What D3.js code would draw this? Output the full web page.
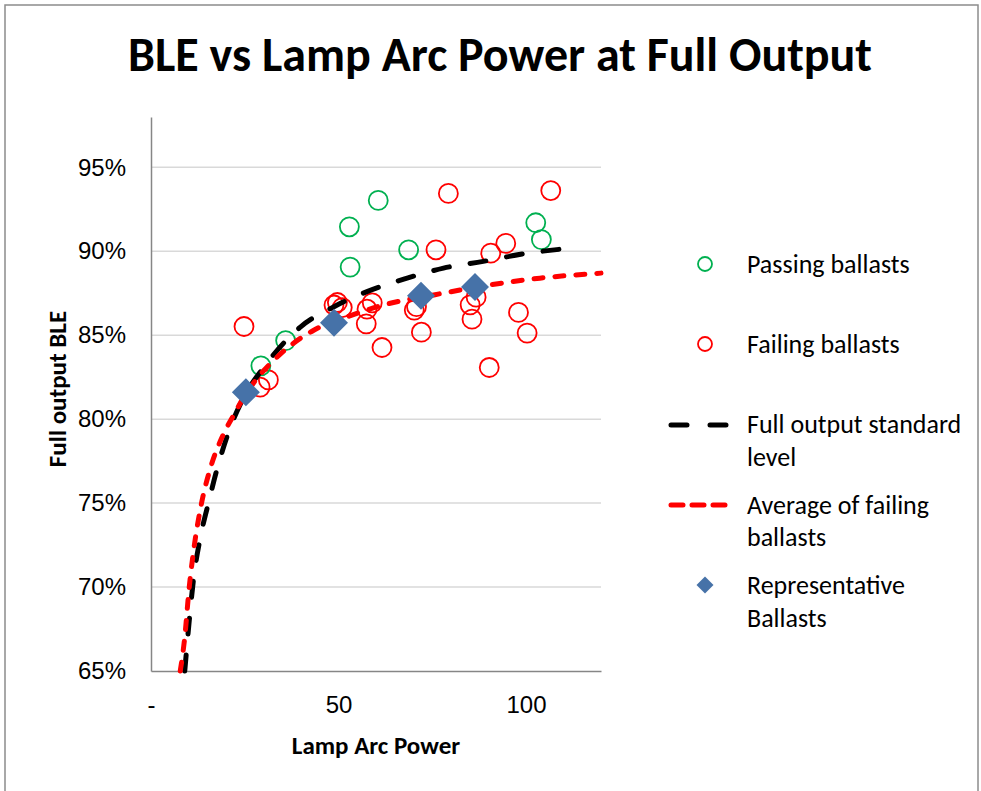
<!DOCTYPE html>
<meta charset="utf-8">
<style>
  body { margin: 0; background: #fff; }
  svg { font-family: Carlito, Calibri, Lato, sans-serif; }
  .grid line { stroke: #d9d9d9; stroke-width: 1.5px; }
  .axis .domain { stroke: #868686; stroke-width: 1.5px; }
  .axis .tick line { display: none; }
  .axis .tick text { font-size: 24px; fill: #000; }
  .legend text { font-size: 26px; fill: #000; }
</style>
<script src="https://d3js.org/d3.v7.min.js"></script>
<div id="chart"></div>
<script>
// ---- data (lamp arc power, BLE %) ----
const passing = [
  [29.3, 83.18], [35.9, 84.68], [52.9, 91.46], [53.1, 89.06],
  [60.6, 93.03], [68.7, 90.09], [102.6, 91.7], [104.1, 90.7]
];
const failing = [
  [24.8, 85.52], [29.1, 81.91], [31.3, 82.34], [48.8, 86.8], [49.7, 86.95],
  [51.0, 86.65], [57.4, 85.68], [57.6, 86.55], [59.0, 86.93], [61.6, 84.27],
  [70.2, 86.5], [70.8, 86.7], [72.1, 85.18], [76.0, 90.09], [79.3, 93.45],
  [85.1, 86.81], [85.6, 85.96], [86.7, 87.27], [90.2, 83.08], [90.6, 89.89],
  [94.6, 90.47], [98.0, 86.36], [100.3, 85.13], [106.6, 93.62]
];
const standardLevel = [
  [9.0, 65.0], [10.2, 68.0], [11.3, 70.4], [13.2, 73.0], [15.3, 75.0],
  [17.7, 77.1], [20.8, 79.3], [24.5, 81.2], [30.1, 83.1], [39.9, 85.5],
  [48.8, 86.7], [57.6, 87.6], [68.3, 88.4], [78.0, 89.0], [88.6, 89.4],
  [99.3, 89.85], [112.6, 90.2]
];
const failingAverage = [
  [7.8, 65.0], [8.9, 66.8], [10.2, 70.0], [11.5, 72.4], [13.3, 74.8],
  [16.0, 77.2], [19.1, 79.0], [22.2, 80.3], [25.0, 81.4], [27.5, 82.2],
  [34.6, 83.9], [43.4, 85.3], [52.3, 86.1], [62.0, 86.8], [75.4, 87.4],
  [90.4, 88.0], [103.7, 88.4], [120, 88.7]
];
const representative = [
  [25.3, 81.6], [48.8, 85.74], [72.0, 87.35], [86.4, 87.87]
];
const xTicks = [0, 50, 100];
const yTicks = [65, 70, 75, 80, 85, 90, 95];

const W = 981, H = 791;
const margin = {top: 117, left: 151};
const width = 450, height = 554;

const svg = d3.select("#chart").append("svg")
    .attr("width", W)
    .attr("height", H);

// outer chart frame
svg.append("rect")
    .attr("x", 5).attr("y", 5)
    .attr("width", 973).attr("height", 820)
    .attr("fill", "none")
    .attr("stroke", "#8c8c8c")
    .attr("stroke-width", 1.5);

svg.append("text")
    .attr("x", 500).attr("y", 71)
    .attr("text-anchor", "middle")
    .style("font-size", "48px")
    .style("font-weight", "bold")
    .text("BLE vs Lamp Arc Power at Full Output");

const g = svg.append("g")
    .attr("transform", `translate(${margin.left},${margin.top})`);

const x = d3.scaleLinear().domain([0, 120]).range([0, width]);
const y = d3.scaleLinear().domain([65, 98]).range([height, 0]);

// gridlines
g.append("g").attr("class", "grid")
  .selectAll("line")
  .data(yTicks.filter(d => d > 65))
  .join("line")
    .attr("x1", 0).attr("x2", width)
    .attr("y1", d => y(d)).attr("y2", d => y(d));

// axes
g.append("g").attr("class", "axis")
    .call(d3.axisLeft(y).tickValues(yTicks).tickSize(0).tickPadding(25)
      .tickFormat(d => d + "%"));

g.append("g").attr("class", "axis")
    .attr("transform", `translate(0,${height})`)
    .call(d3.axisBottom(x).tickValues(xTicks).tickSize(0).tickPadding(25)
      .tickFormat(d => d === 0 ? "-" : d));

// axis titles
svg.append("text")
    .attr("x", 376).attr("y", 754)
    .attr("text-anchor", "middle")
    .style("font-size", "25px").style("font-weight", "bold")
    .text("Lamp Arc Power");
svg.append("text")
    .attr("transform", "translate(66,389) rotate(-90)")
    .attr("text-anchor", "middle")
    .style("font-size", "25px").style("font-weight", "bold")
    .text("Full output BLE");

const line = d3.line()
    .curve(d3.curveMonotoneX)
    .x(d => x(d[0]))
    .y(d => y(d[1]));

// markers first, then the lines on top
g.append("g").selectAll("circle")
  .data(failing)
  .join("circle")
    .attr("cx", d => x(d[0])).attr("cy", d => y(d[1]))
    .attr("r", 9.5)
    .attr("fill", "none").attr("stroke", "#ff0000").attr("stroke-width", 1.8);

g.append("g").selectAll("circle")
  .data(passing)
  .join("circle")
    .attr("cx", d => x(d[0])).attr("cy", d => y(d[1]))
    .attr("r", 9.5)
    .attr("fill", "none").attr("stroke", "#00b050").attr("stroke-width", 1.8);

g.append("path")
    .datum(standardLevel)
    .attr("fill", "none")
    .attr("stroke", "#000")
    .attr("stroke-width", 5)
    .attr("stroke-linecap", "round")
    .attr("stroke-dasharray", "16,21")
    .attr("d", line);

g.append("path")
    .datum(failingAverage)
    .attr("fill", "none")
    .attr("stroke", "#ff0000")
    .attr("stroke-width", 5)
    .attr("stroke-linecap", "round")
    .attr("stroke-dasharray", "9,12")
    .attr("d", line);

const diamond = d3.symbol().type(d3.symbolSquare).size(392);
g.append("g").selectAll("path")
  .data(representative)
  .join("path")
    .attr("transform", d => `translate(${x(d[0])},${y(d[1])}) rotate(45)`)
    .attr("d", diamond)
    .attr("fill", "#4672a8");

// legend
const legend = svg.append("g").attr("class", "legend");
const lx = 705, tx = 747;

legend.append("circle").attr("cx", lx).attr("cy", 264).attr("r", 7)
    .attr("fill", "none").attr("stroke", "#00b050").attr("stroke-width", 1.8);
legend.append("circle").attr("cx", lx).attr("cy", 344).attr("r", 7)
    .attr("fill", "none").attr("stroke", "#ff0000").attr("stroke-width", 1.8);
legend.append("line").attr("x1", 671).attr("x2", 728).attr("y1", 425).attr("y2", 425)
    .attr("stroke", "#000").attr("stroke-width", 5).attr("stroke-linecap", "round")
    .attr("stroke-dasharray", "16,23");
legend.append("line").attr("x1", 671).attr("x2", 728).attr("y1", 505).attr("y2", 505)
    .attr("stroke", "#ff0000").attr("stroke-width", 5).attr("stroke-linecap", "round")
    .attr("stroke-dasharray", "12,9");
legend.append("path")
    .attr("transform", `translate(${lx},585) rotate(45)`)
    .attr("d", d3.symbol().type(d3.symbolSquare).size(144))
    .attr("fill", "#4672a8");

const legendText = [
  ["Passing ballasts", 264], ["Failing ballasts", 344],
  ["Full output standard", 424], ["level", 457],
  ["Average of failing", 505], ["ballasts", 537],
  ["Representative", 585], ["Ballasts", 618]
];
legend.selectAll("text")
  .data(legendText)
  .join("text")
    .attr("x", tx).attr("y", d => d[1])
    .attr("dy", "0.35em")
    .text(d => d[0]);
</script>
